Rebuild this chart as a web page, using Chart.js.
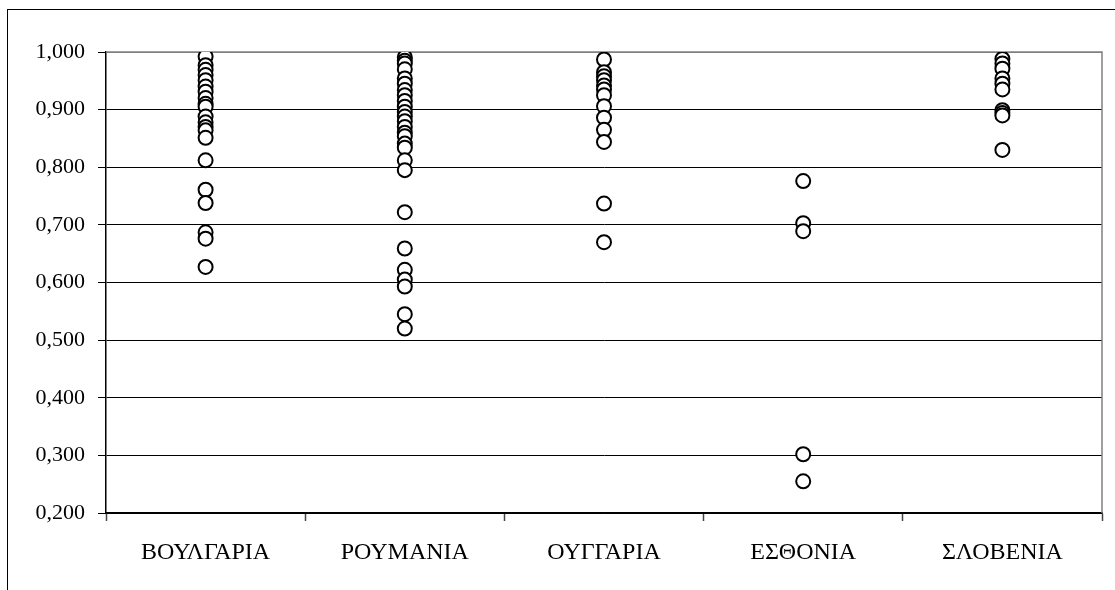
<!DOCTYPE html>
<html>
<head>
<meta charset="utf-8">
<script src="https://cdn.jsdelivr.net/npm/chart.js@4"></script>
<style>
    html, body { margin: 0; padding: 0; background: #fff; }
    #wrap { position: relative; width: 1115px; height: 590px; }
    #frame { position: absolute; left: 7px; top: 9px; right: 0; bottom: 0; border-left: 1px solid #000; border-top: 1px solid #000; pointer-events: none; }
</style>
</head>
<body>
<div id="wrap">
    <canvas id="efficiency_chart" width="1115" height="590"></canvas>
    <div id="frame"></div>
</div>
<script>
const countries = ["ΒΟΥΛΓΑΡΙΑ", "ΡΟΥΜΑΝΙΑ", "ΟΥΓΓΑΡΙΑ", "ΕΣΘΟΝΙΑ", "ΣΛΟΒΕΝΙΑ"];

// τιμές ανά χώρα (διαβασμένες από το διάγραμμα)
const bulgaria = [0.992, 0.977, 0.969, 0.960, 0.951, 0.940, 0.931, 0.920, 0.910, 0.905, 0.888, 0.878, 0.870, 0.864, 0.851, 0.812, 0.761, 0.738, 0.687, 0.676, 0.627];
const romania  = [0.991, 0.985, 0.980, 0.970, 0.954, 0.945, 0.934, 0.925, 0.915, 0.905, 0.896, 0.888, 0.880, 0.870, 0.860, 0.854, 0.841, 0.834, 0.812, 0.795, 0.722, 0.659, 0.622, 0.605, 0.593, 0.545, 0.520];
const hungary  = [0.987, 0.965, 0.958, 0.951, 0.942, 0.935, 0.925, 0.906, 0.886, 0.865, 0.844, 0.737, 0.670];
const estonia  = [0.776, 0.703, 0.689, 0.302, 0.255];
const slovenia = [0.988, 0.980, 0.971, 0.954, 0.945, 0.935, 0.899, 0.894, 0.890, 0.830];

const y_ticks = [0.2, 0.3, 0.4, 0.5, 0.6, 0.7, 0.8, 0.9, 1.0];

const series = [bulgaria, romania, hungary, estonia, slovenia];

function make_points(name, values) {
    let pts = [];
    for (let v of values) {
        pts.push({ x: name, y: v });
    }
    return pts;
}

const datasets = [];
for (let i = 0; i < countries.length; i++) {
    datasets.push({
        label: countries[i],
        data: make_points(countries[i], series[i]),
        pointRadius: 7,
        pointHoverRadius: 7,
        pointBorderWidth: 2,
        pointBorderColor: "#000",
        pointBackgroundColor: "#fff",
        showLine: false
    });
}

// γκρι περίγραμμα της περιοχής σχεδίασης (πάνω / δεξιά)
const plot_border = {
    id: "plot_border",
    beforeDatasetsDraw(chart) {
        const a = chart.chartArea;
        const ctx = chart.ctx;
        ctx.save();
        ctx.strokeStyle = "#808080";
        ctx.lineWidth = 1.5;
        ctx.beginPath();
        ctx.moveTo(a.left, a.top);
        ctx.lineTo(a.right, a.top);
        ctx.lineTo(a.right, a.bottom);
        ctx.stroke();
        ctx.restore();
    }
};

const serif_y = { family: "'Liberation Serif', 'Times New Roman', serif", size: 22 };
const serif_x = { family: "'Liberation Serif', 'Times New Roman', serif", size: 24 };

const ctx = document.getElementById("efficiency_chart").getContext("2d");
const chart = new Chart(ctx, {
    type: "scatter",
    data: { labels: countries, datasets: datasets },
    plugins: [plot_border],
    options: {
        responsive: false,
        animation: false,
        layout: { padding: { left: 0, top: 52, right: 13, bottom: 0 } },
        plugins: {
            legend: { display: false },
            tooltip: { enabled: false }
        },
        scales: {
            x: {
                type: "category",
                labels: countries,
                offset: true,
                grid: {
                    offset: true,
                    drawOnChartArea: false,
                    drawTicks: true,
                    tickLength: 8,
                    tickColor: "#444",
                    tickWidth: 1.5
                },
                border: { color: "#000", width: 1.5 },
                ticks: { color: "#000", font: serif_x, padding: 17, maxRotation: 0 },
                afterFit(scale) { scale.height = 77; }
            },
            y: {
                min: 0.2,
                max: 1.0,
                afterBuildTicks(scale) {
                    scale.ticks = y_ticks.map(v => ({ value: v }));
                },
                grid: {
                    color: (c) => (c.tick && c.tick.value >= 1.0 ? "#808080" : "#000"),
                    lineWidth: 1,
                    drawTicks: true,
                    tickLength: 8,
                    tickColor: "#000"
                },
                border: { color: "#000", width: 1.5 },
                ticks: {
                    color: "#000",
                    font: serif_y,
                    padding: 13,
                    callback: (v) => Number(v).toFixed(3).replace(".", ",")
                },
                afterFit(scale) { scale.width = 106; }
            }
        }
    }
});
</script>
</body>
</html>
